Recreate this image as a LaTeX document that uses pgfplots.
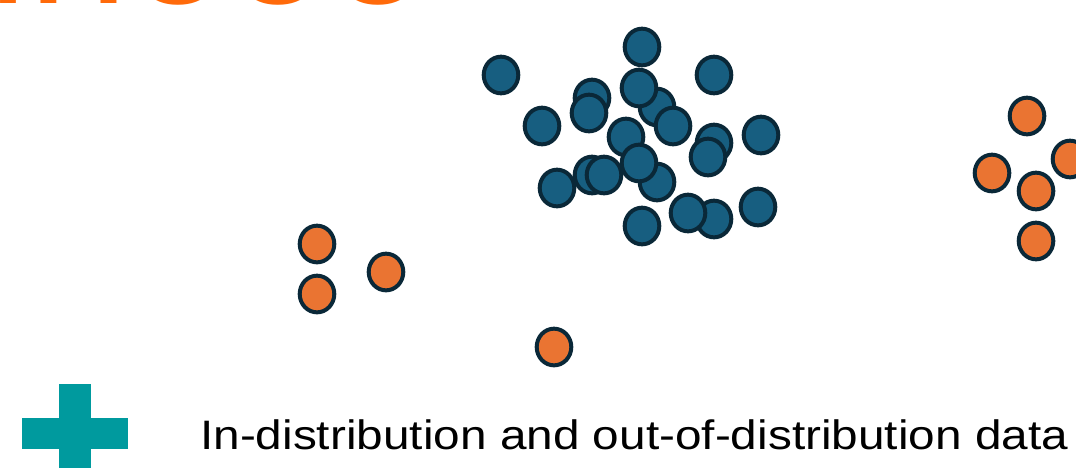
\documentclass[border=0pt]{standalone}
\usepackage{fontspec}
\setmainfont{Liberation Sans}
\usepackage{pgfplots}
\pgfplotsset{compat=1.18}

\definecolor{idblue}{HTML}{175E80}
\definecolor{oodorange}{HTML}{EA7432}
\definecolor{edge}{HTML}{0A2838}
\definecolor{plusteal}{HTML}{009A9E}
\definecolor{titleorange}{HTML}{FF6A0A}

\pgfplotsset{
  dot/.style={only marks, mark=*, mark size=17.3pt,
    mark options={line width=4pt, draw=edge, fill=#1, yscale=1.06}},
}

\begin{document}
\begin{tikzpicture}
\begin{axis}[
  scale only axis,
  width=1076pt, height=467pt,
  xmin=0, xmax=1076, ymin=0, ymax=467,
  y dir=reverse,
  hide axis,
]
% in-distribution points (back to front)
\addplot[dot=idblue] coordinates {
(501,75) (642,47) (714,75) (592,98) (589,113) (542,126)
(657,107) (639,88) (673,126) (626,137) (714,143) (708,157)
(761,135) (557,188) (592,175) (604,175) (657,182) (639,163)
(642,226) (714,219) (688,213) (758,207)
};
% out-of-distribution points
\addplot[dot=oodorange] coordinates {
(317,244) (317,294) (386,272) (554,347)
(1027,116) (992,173) (1036,191) (1036,241) (1070,159)
};

% cut-off slide title
\node[anchor=base west, text=titleorange, inner sep=0pt,
      font=\fontsize{180}{200}\selectfont] at (axis cs:-12,3) {inooo};

% teal plus sign
\fill[plusteal] (axis cs:59,384) rectangle (axis cs:91,470);
\fill[plusteal] (axis cs:22,418) rectangle (axis cs:128,449);

\node[anchor=base west, inner sep=0pt] at (axis cs:200,449)
  {\resizebox{868pt}{29.8pt}{\fontsize{40}{48}\selectfont In-distribution and out-of-distribution data}};
\end{axis}
\pgfresetboundingbox
\useasboundingbox (current axis.south west) rectangle (current axis.north east);
\end{tikzpicture}
\end{document}
